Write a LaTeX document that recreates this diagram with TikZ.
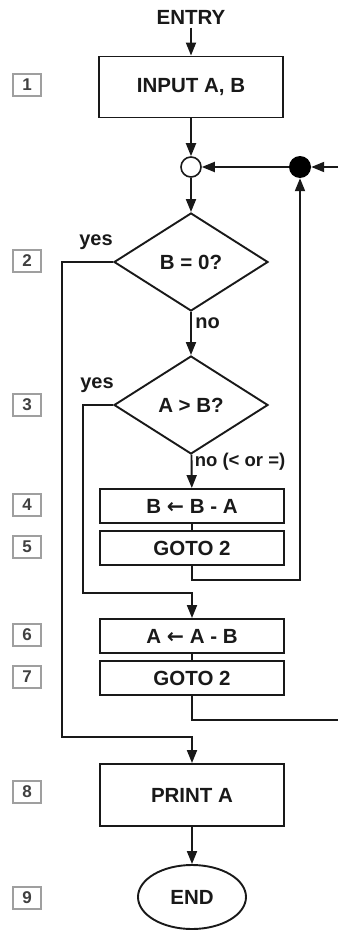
\documentclass[tikz,border=0pt]{standalone}
\usepackage{fontspec}
\setmainfont{Liberation Sans}
\newfontfamily\dejavu{DejaVu Sans}
\usetikzlibrary{shapes.geometric,arrows.meta}
\begin{document}
\begin{tikzpicture}[x=1pt,y=-1pt,
  every node/.style={font=\fontsize{20.5}{22}\selectfont\bfseries, text=black!90},
  line/.style={line width=1.9pt, draw=black!90},
  arr/.style={line, -{Triangle[length=13pt,width=10pt]}},
  procbox/.style={draw=black!90, line width=1.9pt, minimum width=184pt, inner sep=0pt},
  decision/.style={diamond, draw=black!90, line width=1.9pt, minimum width=154pt, minimum height=98pt, inner sep=0pt},
  numbox/.style={draw=gray!75, line width=1.4pt, minimum width=28pt, minimum height=22pt, inner sep=0pt, text=black!75, font=\fontsize{17}{18}\selectfont\bfseries},
  lbl/.style={font=\fontsize{20}{22}\selectfont\bfseries}
]
\useasboundingbox (0,0) rectangle (338,931);
% main nodes
\node (entry) at (191,17) {ENTRY};
\node[procbox, minimum height=61pt] (input) at (191,87) {INPUT A, B};
\node[circle, draw=black!90, line width=1.6pt, minimum size=20pt, inner sep=0pt] (join) at (191,167) {};
\node[circle, fill=black, minimum size=22pt, inner sep=0pt] (dot) at (300,167) {};
\coordinate (inR) at (338,167);
\node[decision] (d1) at (191,262) {B = 0?};
\node[decision] (d2) at (191,405) {A > B?};
\node[procbox, minimum height=34pt] (b4) at (192,506) {B {\dejavu ←} B - A};
\node[procbox, minimum height=34pt] (b5) at (192,548) {GOTO 2};
\node[procbox, minimum height=34pt] (b6) at (192,636) {A {\dejavu ←} A - B};
\node[procbox, minimum height=34pt] (b7) at (192,678) {GOTO 2};
\node[procbox, minimum height=62pt] (print) at (192,795) {PRINT A};
\node[ellipse, draw=black!90, line width=1.9pt, minimum width=108pt, minimum height=64pt, inner sep=0pt] (end) at (192,897) {END};
\coordinate (outR) at (338,720);
\coordinate (yes1) at (62,737);
\coordinate (yes2) at (83,593);
% labels
\node[lbl] (y1) at (96,242) {yes};
\node[lbl] (y2) at (97,385) {yes};
% step numbers
\node[numbox] (n1) at (27,85) {1};
\node[numbox] (n2) at (27,261) {2};
\node[numbox] (n3) at (27,405) {3};
\node[numbox] (n4) at (27,505) {4};
\node[numbox] (n5) at (27,547) {5};
\node[numbox] (n6) at (27,635) {6};
\node[numbox] (n7) at (27,677) {7};
\node[numbox] (n8) at (27,792) {8};
\node[numbox] (n9) at (27,898) {9};
% connectors
\draw[arr] (entry) -- (input);
\draw[arr] (input) -- (join);
\draw[arr] (join) -- (d1);
\draw[arr] (dot) -- (join);
\draw[arr] (inR) -- (dot);
\draw[arr] (d1) -- node[pos=0.27, anchor=west, lbl] {no} (d2);
\draw[arr] (d2) -- node[pos=0.2, anchor=west, font=\fontsize{18.5}{20}\selectfont\bfseries, xshift=-1pt] {no (< or =)} (b4);
\draw[line] (b4) -- (b5);
\draw[line] (b6) -- (b7);
\draw[arr] (b5.south) -- ++(0,14) -| (dot.south);
\draw[line] (b7.south) |- (outR);
\draw[arr] (d1.west) -| (yes1) -- (yes1 -| print.north) -- (print.north);
\draw[arr] (d2.west) -| (yes2) -- (yes2 -| b6.north) -- (b6.north);
\draw[arr] (print) -- (end);
\end{tikzpicture}
\end{document}
